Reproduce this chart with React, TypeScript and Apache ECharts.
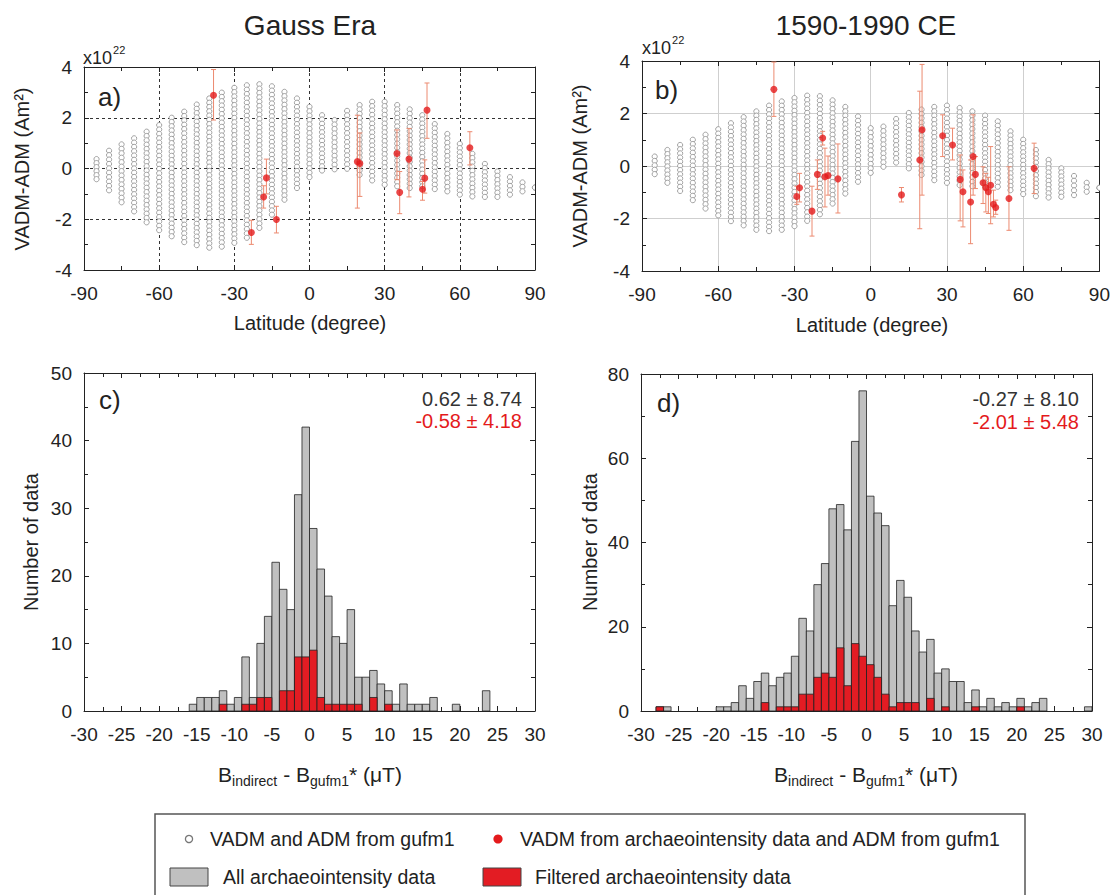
import React, { useEffect, useRef } from "react";
import * as echarts from "echarts";

const FONT = '"Liberation Sans", Arial, Helvetica, sans-serif';
const TXT = "#222";
const RED = "#e41a1c";
const ERR = "#ec8a70";

// ---------- Panels a/b : latitude columns of gufm1 VADM-ADM (x10^22 Am^2) ----------
const latitudes = [-85, -80, -75, -70, -65, -60, -55, -50, -45, -40, -35, -30, -25, -20, -15, -10, -5, 0, 5, 10, 15, 20, 25, 30, 35, 40, 45, 50, 55, 60, 65, 70, 75, 80, 85, 90];
const gaussModelMax = [0.37, 0.7, 0.95, 1.19, 1.45, 1.71, 2.0, 2.24, 2.52, 2.76, 2.99, 3.18, 3.28, 3.32, 3.24, 3.02, 2.76, 2.43, 2.1, 1.91, 2.27, 2.5, 2.63, 2.63, 2.5, 2.33, 2.1, 1.75, 1.36, 0.97, 0.58, 0.18, -0.12, -0.34, -0.55, -0.75];
const gaussModelMin = [-0.42, -0.86, -1.33, -1.69, -2.12, -2.43, -2.67, -2.9, -3.02, -3.12, -3.08, -2.93, -2.73, -2.34, -1.82, -1.23, -0.77, -0.34, -0.08, -0.03, -0.01, -0.25, -0.47, -0.64, -0.7, -0.77, -0.7, -0.81, -0.9, -1.03, -1.1, -1.12, -1.12, -1.03, -0.9, -0.75];
const histModelMax = [0.36, 0.61, 0.8, 1.0, 1.19, 1.4, 1.63, 1.86, 2.08, 2.3, 2.46, 2.59, 2.68, 2.66, 2.5, 2.25, 1.89, 1.44, 1.5, 1.79, 2.02, 2.15, 2.25, 2.3, 2.21, 2.08, 1.92, 1.7, 1.32, 1.0, 0.61, 0.23, -0.09, -0.38, -0.64, -0.83];
const histModelMin = [-0.31, -0.64, -0.95, -1.3, -1.62, -1.88, -2.1, -2.26, -2.43, -2.48, -2.43, -2.29, -2.09, -1.84, -1.43, -1.05, -0.6, -0.26, -0.03, 0.13, -0.09, -0.34, -0.54, -0.64, -0.73, -0.77, -0.79, -0.79, -0.92, -1.07, -1.15, -1.2, -1.17, -1.11, -0.98, -0.83];

// archaeointensity VADM - gufm1 ADM (Gauss era)
const gaussArchLat = [-38.3, -23.2, -18.3, -17.2, -13.2, 19.1, 20.1, 34.9, 36.0, 39.7, 45.1, 46.0, 46.9, 64.0];
const gaussArchVal = [2.89, -2.52, -1.12, -0.37, -2.01, 0.27, 0.2, 0.59, -0.94, 0.37, -0.82, -0.38, 2.3, 0.82];
const gaussArchLo = [1.91, -2.99, -1.56, -1.0, -2.54, -1.56, -1.1, -0.44, -1.78, -1.12, -1.25, -0.97, 1.19, 0.14];
const gaussArchHi = [3.9, -2.04, -0.68, 0.37, -1.49, 2.1, 1.4, 1.52, -0.12, 1.58, -0.51, 0.34, 3.37, 1.45];

// archaeointensity VADM - gufm1 ADM (1590-1990 CE)
const histArchLat = [-38.1, -29.1, -28.0, -23.1, -21.0, -18.9, -18.0, -16.8, -12.9, 12.1, 19.3, 20.2, 28.3, 32.2, 35.2, 36.3, 39.3, 40.3, 41.2, 44.2, 45.3, 46.3, 47.2, 48.3, 49.2, 54.4, 64.3];
const histArchVal = [2.92, -1.16, -0.83, -1.72, -0.32, 1.07, -0.41, -0.36, -0.49, -1.1, 0.23, 1.38, 1.15, 0.8, -0.51, -0.98, -1.37, 0.36, -0.32, -0.64, -0.83, -0.98, -0.73, -1.46, -1.58, -1.24, -0.09];
const histArchLo = [1.89, -1.46, -1.37, -2.67, -0.89, 0.8, -1.56, -1.11, -1.79, -1.37, -2.39, -1.11, 0.36, 0.23, -2.09, -2.32, -2.96, -1.11, -0.86, -1.43, -1.75, -1.81, -2.2, -1.94, -1.84, -2.45, -1.05];
const histArchHi = [3.96, -0.77, -0.28, -0.77, 0.23, 1.32, 0.68, 0.38, 0.84, -0.82, 2.85, 3.87, 1.95, 1.44, 0.42, -0.15, 0.23, 1.95, 0.36, -0.03, -0.28, -0.43, 0.74, -0.92, -1.3, -0.03, 0.87];

// ---------- Panels c/d : histograms, 1 µT bins ----------
const binStarts = [-30, -29, -28, -27, -26, -25, -24, -23, -22, -21, -20, -19, -18, -17, -16, -15, -14, -13, -12, -11, -10, -9, -8, -7, -6, -5, -4, -3, -2, -1, 0, 1, 2, 3, 4, 5, 6, 7, 8, 9, 10, 11, 12, 13, 14, 15, 16, 17, 18, 19, 20, 21, 22, 23, 24, 25, 26, 27, 28, 29];
const gaussAllCounts = [0, 0, 0, 0, 0, 0, 0, 0, 0, 0, 0, 0, 0, 0, 1, 2, 2, 2, 3, 1, 2, 8, 2, 10, 14, 22, 18, 15, 32, 42, 27, 21, 17, 11, 10, 15, 5, 5, 6, 4, 3, 1, 4, 1, 1, 1, 2, 0, 0, 1, 0, 0, 0, 3, 0, 0, 0, 0, 0, 0];
const gaussFilteredCounts = [0, 0, 0, 0, 0, 0, 0, 0, 0, 0, 0, 0, 0, 0, 0, 0, 0, 0, 1, 0, 0, 1, 1, 2, 2, 0, 3, 3, 8, 8, 9, 2, 1, 1, 1, 1, 1, 0, 2, 0, 1, 0, 0, 0, 0, 0, 0, 0, 0, 0, 0, 0, 0, 0, 0, 0, 0, 0, 0, 0];
const histAllCounts = [0, 0, 1, 1, 0, 0, 0, 0, 0, 0, 1, 1, 2, 6, 3, 7, 9, 6, 8, 9, 13, 22, 19, 30, 35, 48, 49, 43, 64, 76, 51, 47, 44, 25, 31, 27, 19, 14, 17, 9, 10, 7, 7, 2, 5, 1, 3, 1, 2, 1, 3, 1, 2, 3, 0, 0, 0, 0, 0, 1];
const histFilteredCounts = [0, 0, 1, 0, 0, 0, 0, 0, 0, 0, 0, 0, 0, 0, 0, 0, 2, 0, 1, 1, 1, 4, 4, 8, 9, 8, 15, 6, 16, 13, 11, 8, 4, 1, 2, 2, 2, 0, 3, 0, 1, 0, 0, 0, 1, 0, 0, 0, 0, 0, 1, 0, 0, 0, 0, 0, 0, 0, 0, 0];

const statsC = ["0.62 \u00b1 8.74", "-0.58 \u00b1 4.18"];
const statsD = ["-0.27 \u00b1 8.10", "-2.01 \u00b1 5.48"];

// ---------- helpers ----------
let measureCtx: CanvasRenderingContext2D | null = null;
function textWidth(t: string, size: number) {
  if (!measureCtx) measureCtx = document.createElement("canvas").getContext("2d");
  if (!measureCtx) return t.length * size * 0.55;
  measureCtx.font = `${size}px "Liberation Sans"`;
  return measureCtx.measureText(t).width;
}

function txt(text: string, x: number, y: number, size: number, extra: any = {}, style: any = {}) {
  return {
    type: "text",
    x,
    y,
    silent: true,
    ...extra,
    style: { text, fontSize: size, fontFamily: FONT, fill: TXT, align: "left", verticalAlign: "middle", ...style },
  };
}

// segments: [text, size, dy, gapBefore]
function segText(segs: [string, number, number, number][], cx: number, cy: number) {
  let total = 0;
  segs.forEach(([t, s, , g]) => (total += g + textWidth(t, s)));
  let x = cx - total / 2;
  return segs.map(([t, s, dy, g]) => {
    x += g;
    const el = txt(t, x, cy + dy, s);
    x += textWidth(t, s);
    return el;
  });
}

function axis(gridIndex: number, min: number, max: number, interval: number, minorSplit: number, position: string, labels: boolean, split: any) {
  return {
    type: "value",
    gridIndex,
    min,
    max,
    interval,
    position,
    axisLine: { show: true, onZero: false, lineStyle: { color: "#222", width: 1 } },
    axisTick: { show: true, inside: true, length: 5, lineStyle: { color: "#222", width: 1 } },
    minorTick: { show: true, splitNumber: minorSplit, length: 4, lineStyle: { color: "#222", width: 1 } },
    axisLabel: {
      show: labels,
      fontSize: 19,
      color: TXT,
      fontFamily: FONT,
      margin: 14,
      showMinLabel: true,
      showMaxLabel: true,
    },
    splitLine: split ? { show: true, lineStyle: split } : { show: false },
    minorSplitLine: { show: false },
  };
}

function modelSeries(xi: number, mins: number[], maxs: number[]) {
  return {
    type: "custom",
    xAxisIndex: xi,
    yAxisIndex: xi,
    clip: true,
    silent: true,
    z: 3,
    encode: { x: 0, y: [1, 2] },
    data: latitudes.map((l, i) => [l, mins[i], maxs[i]]),
    renderItem: (params: any, api: any) => {
      const lat = api.value(0);
      const top = api.coord([lat, api.value(2)]);
      const bot = api.coord([lat, api.value(1)]);
      const span = bot[1] - top[1];
      const n = Math.max(1, Math.round(span / 4.3));
      const children: any[] = [];
      for (let k = 0; k <= n; k++) {
        children.push({
          type: "circle",
          shape: { cx: top[0], cy: top[1] + (span * k) / n, r: 2.6 },
          style: { fill: "#fff", stroke: "#8c8c8c", lineWidth: 0.8 },
        });
      }
      return { type: "group", children };
    },
  };
}

function errSeries(xi: number, lat: number[], val: number[], lo: number[], hi: number[]) {
  return {
    type: "custom",
    xAxisIndex: xi,
    yAxisIndex: xi,
    silent: true,
    z: 4,
    encode: { x: 0, y: [1, 2, 3] },
    data: lat.map((l, i) => [l, val[i], lo[i], hi[i]]),
    renderItem: (params: any, api: any) => {
      const x = api.value(0);
      const pLo = api.coord([x, api.value(2)]);
      const pHi = api.coord([x, api.value(3)]);
      const c = 2.5;
      const st = { stroke: ERR, lineWidth: 1 };
      return {
        type: "group",
        children: [
          { type: "line", shape: { x1: pLo[0], y1: pLo[1], x2: pHi[0], y2: pHi[1] }, style: st },
          { type: "line", shape: { x1: pLo[0] - c, y1: pLo[1], x2: pLo[0] + c, y2: pLo[1] }, style: st },
          { type: "line", shape: { x1: pHi[0] - c, y1: pHi[1], x2: pHi[0] + c, y2: pHi[1] }, style: st },
        ],
      };
    },
  };
}

function dotSeries(xi: number, lat: number[], val: number[]) {
  return {
    type: "scatter",
    xAxisIndex: xi,
    yAxisIndex: xi,
    silent: true,
    z: 5,
    symbol: "circle",
    symbolSize: 7,
    itemStyle: { color: RED, borderWidth: 0 },
    data: lat.map((l, i) => [l, val[i]]),
  };
}

function histSeries(xi: number, counts: number[], fill: string, z: number) {
  return {
    type: "custom",
    xAxisIndex: xi,
    yAxisIndex: xi,
    silent: true,
    z,
    encode: { x: 0, y: 1 },
    data: binStarts.map((b, i) => [b, counts[i]]),
    renderItem: (params: any, api: any) => {
      const x0 = api.value(0);
      const n = api.value(1);
      if (!n) return null;
      const a = api.coord([x0, 0]);
      const b = api.coord([x0 + 1, n]);
      return {
        type: "rect",
        shape: { x: a[0], y: b[1], width: b[0] - a[0], height: a[1] - b[1] },
        style: { fill, stroke: "#222", lineWidth: 0.8 },
      };
    },
  };
}

const grids = [
  { left: 84, top: 67, width: 451, height: 203 },
  { left: 642, top: 61, width: 460, height: 210 },
  { left: 84, top: 373, width: 451, height: 338 },
  { left: 641, top: 374, width: 451, height: 337 },
];

function buildOption() {
  const dashA = { color: "#333", type: [3, 3], width: 1 };
  const lightB = { color: "#cfcfcf", type: "solid", width: 1 };

  const xAxis = [
    axis(0, -90, 90, 30, 2, "bottom", true, dashA),
    axis(0, -90, 90, 30, 2, "top", false, null),
    axis(1, -90, 90, 30, 2, "bottom", true, lightB),
    axis(1, -90, 90, 30, 2, "top", false, null),
    axis(2, -30, 30, 5, 2, "bottom", true, null),
    axis(2, -30, 30, 5, 2, "top", false, null),
    axis(3, -30, 30, 5, 2, "bottom", true, null),
    axis(3, -30, 30, 5, 2, "top", false, null),
  ];
  const yAxis = [
    axis(0, -4, 4, 2, 2, "left", true, dashA),
    axis(0, -4, 4, 2, 2, "right", false, null),
    axis(1, -4, 4, 2, 2, "left", true, lightB),
    axis(1, -4, 4, 2, 2, "right", false, null),
    axis(2, 0, 50, 10, 2, "left", true, null),
    axis(2, 0, 50, 10, 2, "right", false, null),
    axis(3, 0, 80, 20, 2, "left", true, null),
    axis(3, 0, 80, 20, 2, "right", false, null),
  ];
  yAxis.forEach((a: any) => (a.axisLabel.margin = 12));

  const series = [
    modelSeries(0, gaussModelMin, gaussModelMax),
    errSeries(0, gaussArchLat, gaussArchVal, gaussArchLo, gaussArchHi),
    dotSeries(0, gaussArchLat, gaussArchVal),
    modelSeries(2, histModelMin, histModelMax),
    errSeries(2, histArchLat, histArchVal, histArchLo, histArchHi),
    dotSeries(2, histArchLat, histArchVal),
    histSeries(4, gaussAllCounts, "#c0c0c0", 3),
    histSeries(4, gaussFilteredCounts, "#e31c23", 4),
    histSeries(6, histAllCounts, "#c0c0c0", 3),
    histSeries(6, histFilteredCounts, "#e31c23", 4),
  ];

  const rot = { rotation: Math.PI / 2 };
  const centerStyle = { align: "center" };
  const rightStyle = { align: "right" };

  const bTitle = (cx: number, cy: number) =>
    segText(
      [
        ["B", 21, 0, 0],
        ["indirect", 14, 7, 0],
        ["- B", 21, 0, 6],
        ["gufm1", 14, 7, 0],
        ["* (\u03bcT)", 21, 0, 0],
      ],
      cx,
      cy
    );

  const graphic: any[] = [
    txt("Gauss Era", 310, 25, 28, {}, centerStyle),
    txt("1590-1990 CE", 866, 25, 28, {}, centerStyle),
    txt("x10", 83, 58, 18),
    txt("22", 83 + textWidth("x10", 18) + 1, 50, 11),
    txt("x10", 642, 48, 18),
    txt("22", 642 + textWidth("x10", 18) + 1, 40, 11),
    txt("VADM-ADM (Am\u00b2)", 22, 169, 20, rot, centerStyle),
    txt("VADM-ADM (Am\u00b2)", 580, 166, 20, rot, centerStyle),
    txt("Latitude (degree)", 310, 323, 20, {}, centerStyle),
    txt("Latitude (degree)", 872, 325, 20, {}, centerStyle),
    txt("a)", 98, 97, 26),
    txt("b)", 655, 90, 26),
    txt("c)", 99, 400, 26),
    txt("d)", 657, 403, 26),
    txt("Number of data", 31, 542, 20, rot, centerStyle),
    txt("Number of data", 590, 542, 20, rot, centerStyle),
    txt(statsC[0], 522, 399, 20, {}, { ...rightStyle, fill: "#333" }),
    txt(statsC[1], 522, 421, 20, {}, { ...rightStyle, fill: RED }),
    txt(statsD[0], 1079, 399, 20, {}, { ...rightStyle, fill: "#333" }),
    txt(statsD[1], 1079, 422, 20, {}, { ...rightStyle, fill: RED }),
    ...bTitle(310, 774),
    ...bTitle(866, 774),
    // legend
    {
      type: "rect",
      silent: true,
      shape: { x: 155, y: 814, width: 870, height: 100 },
      style: { fill: "none", stroke: "#555", lineWidth: 1.5 },
    },
    { type: "circle", silent: true, shape: { cx: 189, cy: 839, r: 3.6 }, style: { fill: "#fff", stroke: "#777", lineWidth: 1.3 } },
    txt("VADM and ADM from gufm1", 210, 839, 19.5),
    { type: "circle", silent: true, shape: { cx: 498, cy: 839, r: 4.6 }, style: { fill: RED } },
    txt("VADM from archaeointensity data and ADM from gufm1", 520, 839, 19.5),
    { type: "rect", silent: true, shape: { x: 170, y: 868, width: 38, height: 18 }, style: { fill: "#c0c0c0", stroke: "#444", lineWidth: 1 } },
    txt("All archaeointensity data", 223, 877, 19.5),
    { type: "rect", silent: true, shape: { x: 483, y: 868, width: 38, height: 18 }, style: { fill: "#e31c23", stroke: "#444", lineWidth: 1 } },
    txt("Filtered archaeointensity data", 535, 877, 19.5),
  ];

  return {
    animation: false,
    backgroundColor: "#fff",
    textStyle: { fontFamily: FONT },
    grid: grids.map((g) => ({ ...g, containLabel: false, show: false })),
    xAxis,
    yAxis,
    series,
    graphic,
  };
}

export default function App() {
  const ref = useRef<HTMLDivElement | null>(null);
  useEffect(() => {
    if (!ref.current) return;
    const chart = echarts.init(ref.current, undefined, { renderer: "svg" });
    chart.setOption(buildOption() as any);
    return () => chart.dispose();
  }, []);
  return (
    <div
      ref={ref}
      style={{ position: "fixed", left: 0, top: 0, width: 1113, height: 895, background: "#fff" }}
    />
  );
}
